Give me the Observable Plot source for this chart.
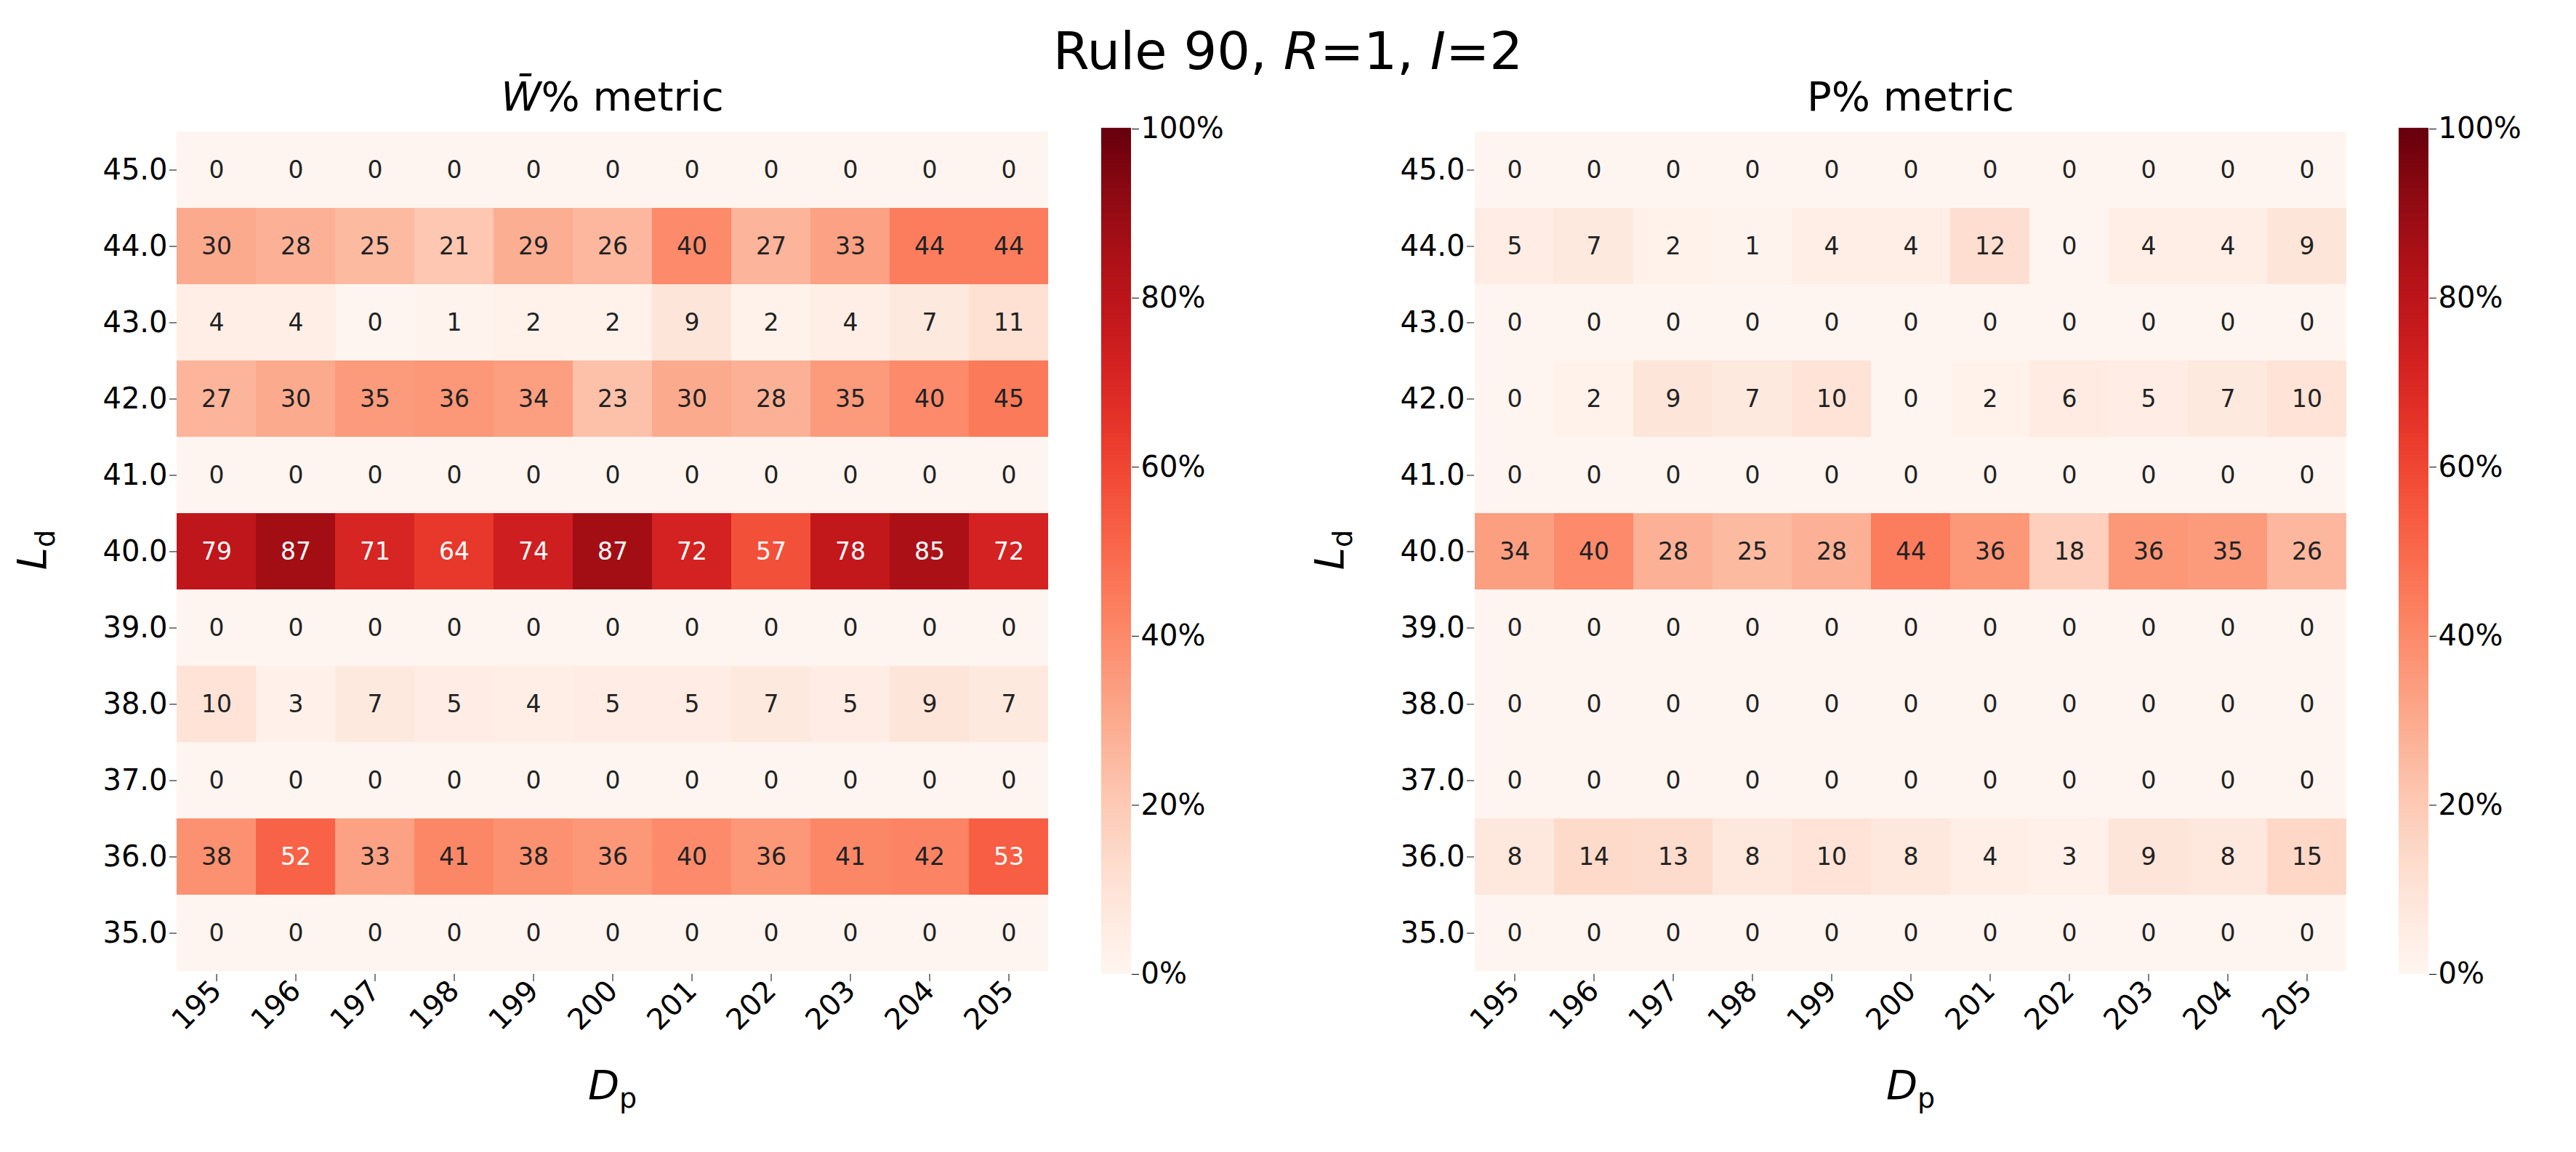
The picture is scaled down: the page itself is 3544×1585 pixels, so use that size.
<!DOCTYPE html>
<html>
<head>
<meta charset="UTF-8">
<script src="https://cdn.jsdelivr.net/npm/d3@7"></script>
<script src="https://cdn.jsdelivr.net/npm/@observablehq/plot@0.6"></script>
<style>
  body { margin: 0; background: #fff; font-family: "DejaVu Sans", sans-serif; }
  #page { position: relative; width: 3544px; height: 1585px; }
  .abs { position: absolute; }
  .lbl { font-size: 56px; color: #000; }
</style>
</head>
<body>
<div id="page"></div>
<script>
// data
const dpValues = [195, 196, 197, 198, 199, 200, 201, 202, 203, 204, 205];
const ldValues = ["45.0", "44.0", "43.0", "42.0", "41.0", "40.0", "39.0", "38.0", "37.0", "36.0", "35.0"];
const wbarValues = [
  [0, 0, 0, 0, 0, 0, 0, 0, 0, 0, 0],
  [30, 28, 25, 21, 29, 26, 40, 27, 33, 44, 44],
  [4, 4, 0, 1, 2, 2, 9, 2, 4, 7, 11],
  [27, 30, 35, 36, 34, 23, 30, 28, 35, 40, 45],
  [0, 0, 0, 0, 0, 0, 0, 0, 0, 0, 0],
  [79, 87, 71, 64, 74, 87, 72, 57, 78, 85, 72],
  [0, 0, 0, 0, 0, 0, 0, 0, 0, 0, 0],
  [10, 3, 7, 5, 4, 5, 5, 7, 5, 9, 7],
  [0, 0, 0, 0, 0, 0, 0, 0, 0, 0, 0],
  [38, 52, 33, 41, 38, 36, 40, 36, 41, 42, 53],
  [0, 0, 0, 0, 0, 0, 0, 0, 0, 0, 0]
];
const pValues = [
  [0, 0, 0, 0, 0, 0, 0, 0, 0, 0, 0],
  [5, 7, 2, 1, 4, 4, 12, 0, 4, 4, 9],
  [0, 0, 0, 0, 0, 0, 0, 0, 0, 0, 0],
  [0, 2, 9, 7, 10, 0, 2, 6, 5, 7, 10],
  [0, 0, 0, 0, 0, 0, 0, 0, 0, 0, 0],
  [34, 40, 28, 25, 28, 44, 36, 18, 36, 35, 26],
  [0, 0, 0, 0, 0, 0, 0, 0, 0, 0, 0],
  [0, 0, 0, 0, 0, 0, 0, 0, 0, 0, 0],
  [0, 0, 0, 0, 0, 0, 0, 0, 0, 0, 0],
  [8, 14, 13, 8, 10, 8, 4, 3, 9, 8, 15],
  [0, 0, 0, 0, 0, 0, 0, 0, 0, 0, 0]
];
const cbarTicks = [0, 20, 40, 60, 80, 100];

const page = document.getElementById("page");
const plotTop = 177, plotBottom = 1340;

function place(el, left, top) {
  el.classList.add("abs");
  el.style.left = left + "px";
  el.style.top = top + "px";
  page.append(el);
  return el;
}
function html(s, left, top, cls, extra) {
  const d = document.createElement("div");
  d.innerHTML = s;
  if (cls) d.className = cls;
  if (extra) Object.assign(d.style, extra);
  return place(d, left, top);
}

function heatmap(matrix, x0, x1) {
  const rows = [];
  matrix.forEach((r, i) => r.forEach((v, j) => rows.push({ ld: ldValues[i], dp: dpValues[j], v })));
  const mt = 20, mb = 220;
  const p = Plot.plot({
    width: x1 + 40, height: plotBottom - plotTop + mt + mb,
    marginLeft: x0, marginRight: 40, marginTop: mt, marginBottom: mb,
    style: { fontFamily: "DejaVu Sans", fontSize: "40px", overflow: "visible" },
    x: { type: "band", domain: dpValues, padding: 0, label: null, tickRotate: -45, tickSize: 10 },
    y: { type: "band", domain: ldValues, padding: 0, label: null, tickSize: 10 },
    color: { type: "linear", scheme: "reds", domain: [0, 100] },
    marks: [
      Plot.cell(rows, { x: "dp", y: "ld", fill: "v", inset: 0 }),
      Plot.text(rows, { x: "dp", y: "ld", text: "v", fontSize: 33,
        fill: d => d.v > 50 ? "white" : "#222" })
    ]
  });
  place(p, 0, plotTop - mt);
  return p;
}

function colorbar(left) {
  const stops = d3.range(0, 100, 0.5);
  const mt = 20, mb = 20;
  const p = Plot.plot({
    width: 200, height: plotBottom - plotTop + mt + mb,
    marginLeft: 0, marginRight: 159, marginTop: mt, marginBottom: mb,
    style: { fontFamily: "DejaVu Sans", fontSize: "40px", overflow: "visible" },
    x: { axis: null, domain: [0, 1] },
    y: { domain: [0, 100], ticks: cbarTicks, tickFormat: d => d + "%", label: null, tickSize: 10 },
    color: { type: "linear", scheme: "reds", domain: [0, 100] },
    marks: [
      Plot.rect(stops, { x1: 0, x2: 1, y1: d => d, y2: d => d + 0.6, fill: d => d + 0.25 }),
      Plot.axisY({ anchor: "right", ticks: cbarTicks, tickFormat: d => d + "%", tickSize: 10, label: null })
    ]
  });
  place(p, left, plotTop - mt);
}

// left panel
const g1 = heatmap(wbarValues, 243, 1442);
colorbar(1515);
// right panel
const g2 = heatmap(pValues, 243, 1444);
g2.style.left = "1785px";
colorbar(3300);

html("Rule 90, <i>R</i>=1, <i>I</i>=2", 0, 28, null, { width: "3544px", textAlign: "center", fontSize: "72px" });
html("<i>W&#772;</i>% metric", 243, 100, null, { width: "1199px", textAlign: "center", fontSize: "56px" });
html("P% metric", 2028, 100, null, { width: "1201px", textAlign: "center", fontSize: "56px" });
html("<i>D</i><sub style='font-size:38px'>p</sub>", 243, 1460, "lbl", { width: "1199px", textAlign: "center" });
html("<i>D</i><sub style='font-size:38px'>p</sub>", 2028, 1460, "lbl", { width: "1201px", textAlign: "center" });
html("<i>L</i><sub style='font-size:38px'>d</sub>", 20, 720, "lbl", { transform: "rotate(-90deg)", transformOrigin: "center" });
html("<i>L</i><sub style='font-size:38px'>d</sub>", 1805, 720, "lbl", { transform: "rotate(-90deg)", transformOrigin: "center" });
</script>
</body>
</html>
